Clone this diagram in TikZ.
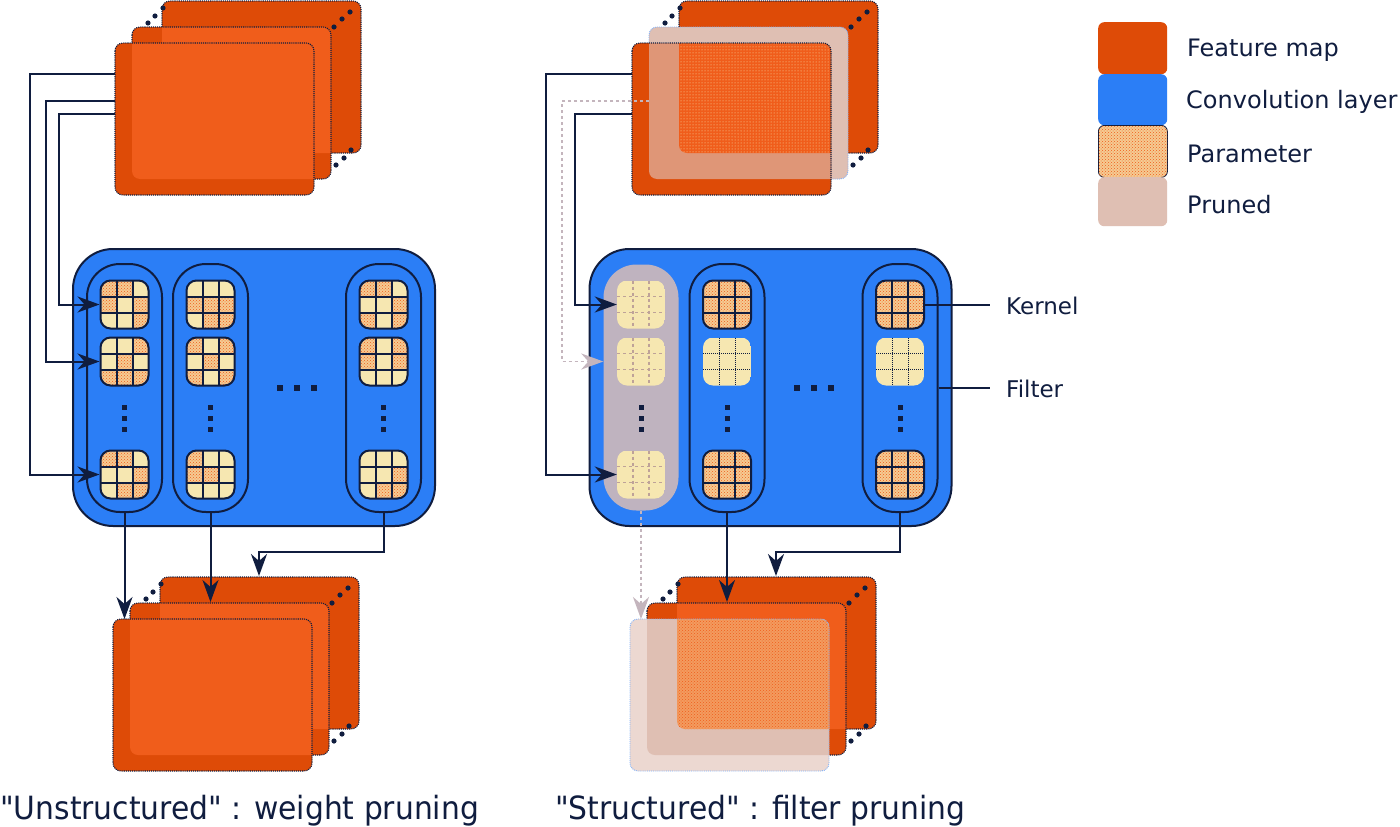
\documentclass[tikz,border=0pt]{standalone}
\usepackage{fontspec}
\setmainfont{DejaVu Sans}
\newfontfamily\capfont[FakeStretch=0.93,Ligatures=TeXOff]{DejaVu Sans}
\usetikzlibrary{arrows.meta,patterns}
\definecolor{navy}{HTML}{101D3F}
\definecolor{fmdark}{HTML}{DE4B07}
\definecolor{fmlight}{HTML}{F05D1B}
\definecolor{convblue}{HTML}{2B7EF6}
\definecolor{cream}{HTML}{F6E7B1}
\definecolor{prunedc}{HTML}{DFBFB3}
\tikzset{
  mapborder/.style={draw=navy, line width=1.1pt, densely dotted, rounded corners=8pt},
  prunedborder/.style={draw=convblue!60!white, line width=0.9pt, densely dotted, rounded corners=8pt},
  conv/.style={draw=navy, line width=2pt, fill=convblue, rounded corners=40pt, minimum width=362pt, minimum height=277pt, inner sep=0pt},
  filt/.style={draw=navy, line width=2pt, rounded corners=33pt, minimum width=75pt, minimum height=248pt, inner sep=0pt},
  prunedfilt/.style={fill=prunedc!82!convblue, rounded corners=33pt, minimum width=75pt, minimum height=246pt, inner sep=0pt},
  kbox/.style={draw=navy, line width=2pt, rounded corners=10pt, minimum width=48pt, minimum height=48pt, inner sep=0pt},
  kspot/.style={minimum width=48pt, minimum height=48pt, inner sep=0pt},
  speck/.style={fill=cream!80!fmlight, postaction={pattern=crosshatch dots, pattern color=fmlight}},
  gridln/.style={draw=navy, line width=2pt},
  pgridln/.style={draw=prunedc!85!black, line width=1.5pt, dashed},
  dgridln/.style={draw=navy, line width=1pt, densely dotted},
  arr/.style={draw=navy, line width=2pt, -{Stealth[length=22pt, width=16pt, inset=7pt]}},
  parr/.style={draw=prunedc!85!convblue, line width=1.5pt, dashed, -{Stealth[length=22pt, width=16pt, inset=7pt]}},
  wire/.style={draw=navy, line width=2pt},
  lgbox/.style={anchor=north west, minimum width=69pt, rounded corners=6pt, inner sep=0pt},
  lgtext/.style={text=navy, font=\fontsize{24}{28}\selectfont, anchor=base west, inner sep=0pt},
  lbltext/.style={text=navy, font=\fontsize{23}{27}\selectfont, anchor=west, inner xsep=16pt, inner ysep=0pt, text height=19pt, text depth=0pt},
  captext/.style={text=navy, font=\capfont\fontsize{32}{38}\selectfont, anchor=base west, inner sep=0pt}
}
% kernel with parameters: name, x, y, flags (1 = kept parameter)
\newcommand\krnl[4]{%
  \begin{scope}
    \clip[rounded corners=10pt] ({#2-24},{#3-24}) rectangle ({#2+24},{#3+24});
    \fill[cream] ({#2-24},{#3-24}) rectangle ({#2+24},{#3+24});
    \foreach \v [count=\i from 0] in {#4} {
      \pgfmathtruncatemacro\kr{int(\i/3)}
      \pgfmathtruncatemacro\kc{mod(\i,3)}
      \ifnum\v=1 \path[speck] ({#2-24+16*\kc},{#3-24+16*\kr}) rectangle ++(16,16);\fi
    }
    \draw[gridln] ({#2-8},{#3-24}) -- ({#2-8},{#3+24}) ({#2+8},{#3-24}) -- ({#2+8},{#3+24})
      ({#2-24},{#3-8}) -- ({#2+24},{#3-8}) ({#2-24},{#3+8}) -- ({#2+24},{#3+8});
  \end{scope}
  \node[kbox] (#1) at (#2,#3) {};
}
% pruned kernel: name, x, y, grid style
\newcommand\krnlp[4]{%
  \begin{scope}
    \clip[rounded corners=10pt] ({#2-24},{#3-24}) rectangle ({#2+24},{#3+24});
    \fill[cream] ({#2-24},{#3-24}) rectangle ({#2+24},{#3+24});
    \draw[#4] ({#2-8},{#3-24}) -- ({#2-8},{#3+24}) ({#2+8},{#3-24}) -- ({#2+8},{#3+24})
      ({#2-24},{#3-8}) -- ({#2+24},{#3-8}) ({#2-24},{#3+8}) -- ({#2+24},{#3+8});
  \end{scope}
  \node[kspot] (#1) at (#2,#3) {};
}
\newcommand\mapdots{%
  \foreach \p in {(33,-20),(40,-27),(48,-35),(219,-16),(227,-24),(235,-31),(221,122),(229,115),(236,107)}
    \fill[navy] \p circle (2.6);
}
\newcommand\fmapnormal[2]{%
  \begin{scope}[shift={(#1,#2)}]
    \fill[fmdark, rounded corners=8pt] (47,-42) rectangle (246,110);
    \draw[mapborder] (47,-42) rectangle (246,110);
    \fill[fmdark, rounded corners=8pt] (17,-16) rectangle (216,136);
    \begin{scope}
      \clip[rounded corners=8pt] (17,-16) rectangle (216,136);
      \fill[fmlight, rounded corners=8pt] (47,-42) rectangle (246,110);
    \end{scope}
    \draw[mapborder] (17,-16) rectangle (216,136);
    \fill[fmdark, rounded corners=8pt] (0,0) rectangle (199,152);
    \begin{scope}
      \clip[rounded corners=8pt] (0,0) rectangle (199,152);
      \fill[fmlight, rounded corners=8pt] (17,-16) rectangle (216,136);
    \end{scope}
    \draw[mapborder] (0,0) rectangle (199,152);
    \mapdots
  \end{scope}
}
\begin{document}
\begin{tikzpicture}[x=1pt,y=-1pt]
\path[use as bounding box, fill=white] (0,0) rectangle (1400,827);

% ---------- feature maps ----------
\fmapnormal{115}{43}
\fmapnormal{113}{619}
% top right: middle map pruned
\begin{scope}[shift={(632,43)}]
  \fill[fmdark, rounded corners=8pt] (47,-42) rectangle (246,110);
  \draw[mapborder] (47,-42) rectangle (246,110);
  \fill[prunedc, rounded corners=8pt] (17,-16) rectangle (216,136);
  \draw[prunedborder] (17,-16) rectangle (216,136);
  \fill[fmdark, rounded corners=8pt] (0,0) rectangle (199,152);
  \begin{scope}
    \clip[rounded corners=8pt] (0,0) rectangle (199,152);
    \fill[fmdark!35!prunedc, rounded corners=8pt] (17,-16) rectangle (216,136);
    \fill[fmlight, rounded corners=8pt] (47,-42) rectangle (246,110);
    \fill[pattern=dots, pattern color=cream, rounded corners=8pt] (47,-42) rectangle (246,110);
  \end{scope}
  \draw[mapborder] (0,0) rectangle (199,152);
  \mapdots
\end{scope}
% bottom right: front map pruned
\begin{scope}[shift={(630,619)}]
  \fill[fmdark, rounded corners=8pt] (47,-42) rectangle (246,110);
  \draw[mapborder] (47,-42) rectangle (246,110);
  \fill[fmdark, rounded corners=8pt] (17,-16) rectangle (216,136);
  \begin{scope}
    \clip[rounded corners=8pt] (17,-16) rectangle (216,136);
    \fill[fmlight, rounded corners=8pt] (47,-42) rectangle (246,110);
  \end{scope}
  \draw[mapborder] (17,-16) rectangle (216,136);
  \fill[prunedc!60!white, rounded corners=8pt] (0,0) rectangle (199,152);
  \begin{scope}
    \clip[rounded corners=8pt] (0,0) rectangle (199,152);
    \fill[prunedc, rounded corners=8pt] (17,-16) rectangle (216,136);
    \fill[fmlight!55!cream, rounded corners=8pt] (47,-42) rectangle (246,110);
    \fill[pattern=crosshatch dots, pattern color=fmlight, rounded corners=8pt] (47,-42) rectangle (246,110);
  \end{scope}
  \draw[prunedborder] (0,0) rectangle (199,152);
  \mapdots
\end{scope}

% ---------- left convolution layer ----------
\node[conv] (convL) at (254,387.5) {};
\node[filt] (lf1) at (124.5,388) {};
\node[filt] (lf2) at (210.5,388) {};
\node[filt] (lf3) at (383.5,388) {};
\krnl{lk11}{124.5}{304.5}{1,1,0,1,0,1,0,0,1}
\krnl{lk12}{124.5}{361.5}{0,0,1,0,1,0,1,1,1}
\krnl{lk13}{124.5}{474.5}{1,1,0,0,0,1,0,1,1}
\krnl{lk21}{210.5}{304.5}{0,0,0,1,1,1,0,1,1}
\krnl{lk22}{210.5}{361.5}{1,0,1,0,1,0,1,0,1}
\krnl{lk23}{210.5}{474.5}{1,0,0,1,1,0,0,0,0}
\krnl{lk31}{383.5}{304.5}{1,1,0,0,0,1,1,0,1}
\krnl{lk32}{383.5}{361.5}{1,0,1,1,0,1,0,0,0}
\krnl{lk33}{383.5}{474.5}{0,0,0,0,0,1,0,1,1}

% ---------- right convolution layer ----------
\node[conv] (convR) at (770.5,387.5) {};
\node[prunedfilt] (rf1) at (641,387.5) {};
\node[filt] (rf2) at (727,388) {};
\node[filt] (rf3) at (900,388) {};
\krnlp{rk11}{641}{304.5}{pgridln}
\krnlp{rk12}{641}{361.5}{pgridln}
\krnlp{rk13}{641}{474.5}{pgridln}
\krnl{rk21}{727}{304.5}{1,1,1,1,1,1,1,1,1}
\krnlp{rk22}{727}{361.5}{dgridln}
\krnl{rk23}{727}{474.5}{1,1,1,1,1,1,1,1,1}
\krnl{rk31}{900}{304.5}{1,1,1,1,1,1,1,1,1}
\krnlp{rk32}{900}{361.5}{dgridln}
\krnl{rk33}{900}{474.5}{1,1,1,1,1,1,1,1,1}

% ellipsis dots
\foreach \x in {124.5,210.5,383.5,641,727,900}
  \foreach \y in {407,418,429}
    \fill[navy] ({\x-2.5},{\y-2.5}) rectangle ++(5,5);
\foreach \x in {280,297,314,797,814,831}
  \fill[navy] ({\x-3},{385}) rectangle ++(6,6);

% ---------- connectors, left ----------
\coordinate (tlA) at (115,74);
\coordinate (tlB) at (115,101);
\coordinate (tlC) at (115,114);
\draw[arr] (tlA) -- (30,74) |- (lk13.west);
\draw[arr] (tlB) -- (46,101) |- (lk12.west);
\draw[arr] (tlC) -- (59,114) |- (lk11.west);
\coordinate (blF) at (124.5,619);
\coordinate (blM) at (210.5,602);
\coordinate (blB) at (259,576);
\draw[arr] (lf1.south) -- (blF);
\draw[arr] (lf2.south) -- (blM);
\draw[arr] (lf3.south) |- (259,552) -- (blB);

% ---------- connectors, right ----------
\coordinate (trA) at (632,74);
\coordinate (trB) at (649,101);
\coordinate (trC) at (632,114);
\draw[arr] (trA) -- (546,74) |- (rk13.west);
\draw[parr] (trB) -- (562,101) |- (rf1.west |- rk12.west);
\draw[arr] (trC) -- (575,114) |- (rk11.west);
\coordinate (brF) at (641,619);
\coordinate (brM) at (727,602);
\coordinate (brB) at (776,576);
\draw[parr] (rf1.south) -- (brF);
\draw[arr] (rf2.south) -- (brM);
\draw[arr] (rf3.south) |- (776,552) -- (brB);

% ---------- kernel / filter labels ----------
\node[lbltext] (kerlab) at (990,304.5) {Kernel};
\node[lbltext] (fillab) at (990,388) {Filter};
\draw[wire] (rk31.east) -- (kerlab.west);
\draw[wire] (rf3.east) -- (fillab.west);

% ---------- legend ----------
\node[lgbox, fill=fmdark, minimum height=52pt] (lg1) at (1098,22) {};
\node[lgbox, fill=convblue, minimum height=51pt] (lg2) at (1098,74) {};
\node[lgbox, fill=cream!80!fmlight, draw=navy, line width=0.8pt, minimum height=52pt,
      postaction={pattern=crosshatch dots, pattern color=fmlight}] (lg3) at (1098,125) {};
\node[lgbox, fill=prunedc, minimum height=49pt] (lg4) at (1098,177) {};
\node[lgtext] (lgt1) at (1187,56) {Feature map};
\node[lgtext] (lgt2) at (1186,108) {Convolution layer};
\node[lgtext] (lgt3) at (1187,162) {Parameter};
\node[lgtext] (lgt4) at (1187,213) {Pruned};

% ---------- captions ----------
\node[captext] (capL) at (0,819) {"Unstructured" : weight pruning};
\node[captext] (capR) at (555,819) {"Structured" : filter pruning};
\end{tikzpicture}
\end{document}
